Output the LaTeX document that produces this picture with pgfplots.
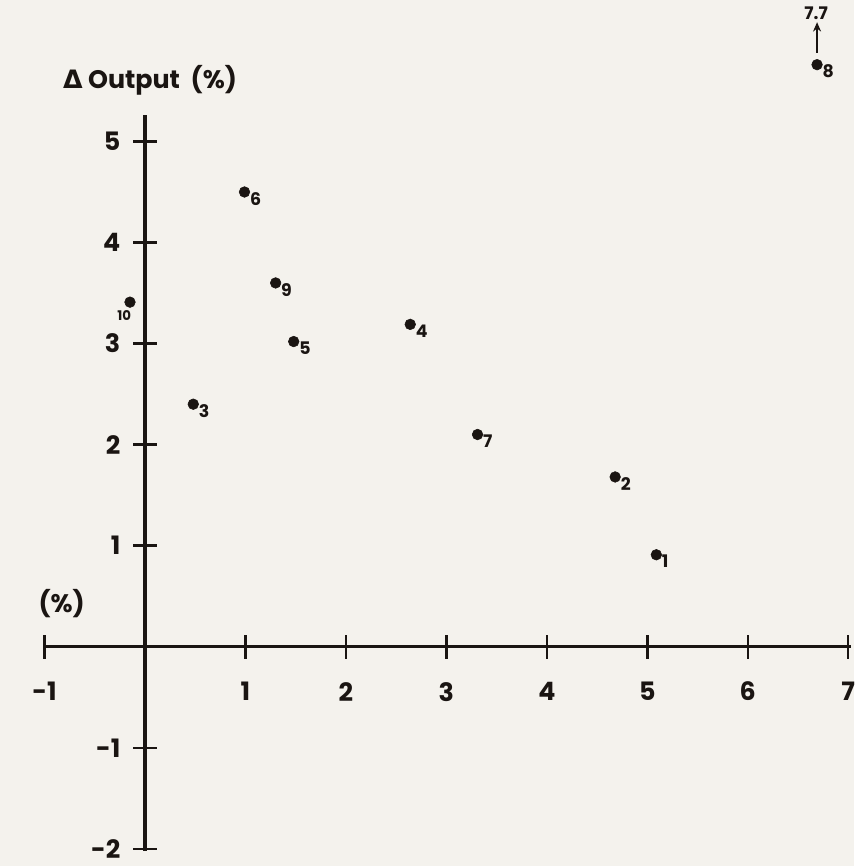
\documentclass[border=0pt]{standalone}
\usepackage{pgfplots}
\pgfplotsset{compat=1.18}
\usetikzlibrary{backgrounds,arrows.meta}
\usepackage{fontspec}
\setmainfont{Poppins}
\newfontfamily\dvfont{DejaVu Sans}
\definecolor{ink}{HTML}{1A1512}
\definecolor{paper}{HTML}{F4F2ED}
\begin{document}
\begin{tikzpicture}
\begin{axis}[
  x=75.3pt, y=75.75pt,
  xmin=-1, xmax=7.03, ymin=-2.02, ymax=5.26,
  axis lines=middle,
  axis line style={-, line width=2.6pt, ink},
  clip=false,
  xtick={-1,1,2,3,4,5,6,7},
  ytick={-2,-1,1,2,3,4,5},
  xticklabels={-1,1,2,3,4,5,6,7},
  yticklabels={-2,-1,1,2,3,4,5},
  tick align=center,
  major tick length=18pt,
  tick style={line width=1.8pt, ink},
  xticklabel style={anchor=north, yshift=-14pt, font=\fontsize{19}{22}\selectfont\bfseries, text=ink},
  yticklabel style={anchor=east, xshift=-6pt, font=\fontsize{19}{22}\selectfont\bfseries, text=ink},
  /pgf/number format/assume math mode=true,
  nodes near coords={\pgfplotspointmeta},
  point meta=explicit symbolic,
  every node near coord/.append style={anchor=north west, inner sep=0pt, xshift=4pt, yshift=0pt, font=\fontsize{13}{15}\selectfont\bfseries, text=ink},
]
\addplot[only marks, mark=*, mark size=4pt, ink, mark options={fill=ink, draw=ink}] table[meta=label] {
x y label
5.09 0.91 1
4.68 1.68 2
0.48 2.40 3
2.64 3.19 4
1.48 3.02 5
0.99 4.50 6
3.31 2.10 7
6.69 5.76 8
1.30 3.60 9
};
\addplot[only marks, mark=*, mark size=4pt, ink, mark options={fill=ink, draw=ink},
  every node near coord/.append style={anchor=north east, xshift=-3pt, yshift=-6pt, font=\fontsize{10}{12}\selectfont\bfseries}] table[meta=label] {
x y label
-0.15 3.41 10
};
\draw[-{Stealth[length=7pt,width=6pt]}, line width=1.6pt, ink] (axis cs:6.69,5.88) -- (axis cs:6.69,6.18);
\node[ink, font=\fontsize{13}{15}\selectfont\bfseries] at (axis cs:6.68,6.27) {7.7};
\node[ink, font=\fontsize{19}{22}\selectfont\bfseries] at (axis cs:0.05,5.61) {{\dvfont\bfseries Δ} Output\ \ (\%)};
\node[ink, font=\fontsize{19}{22}\selectfont\bfseries] at (axis cs:-0.83,0.43) {(\%)};
\coordinate (bl) at (axis cs:-1.444,-2.17);
\coordinate (tr) at (axis cs:7.062,6.40);
\end{axis}
\pgfresetboundingbox
\path[use as bounding box] (bl) rectangle (tr);
\begin{scope}[on background layer]
\fill[paper] (bl) rectangle (tr);
\end{scope}
\end{tikzpicture}
\end{document}
